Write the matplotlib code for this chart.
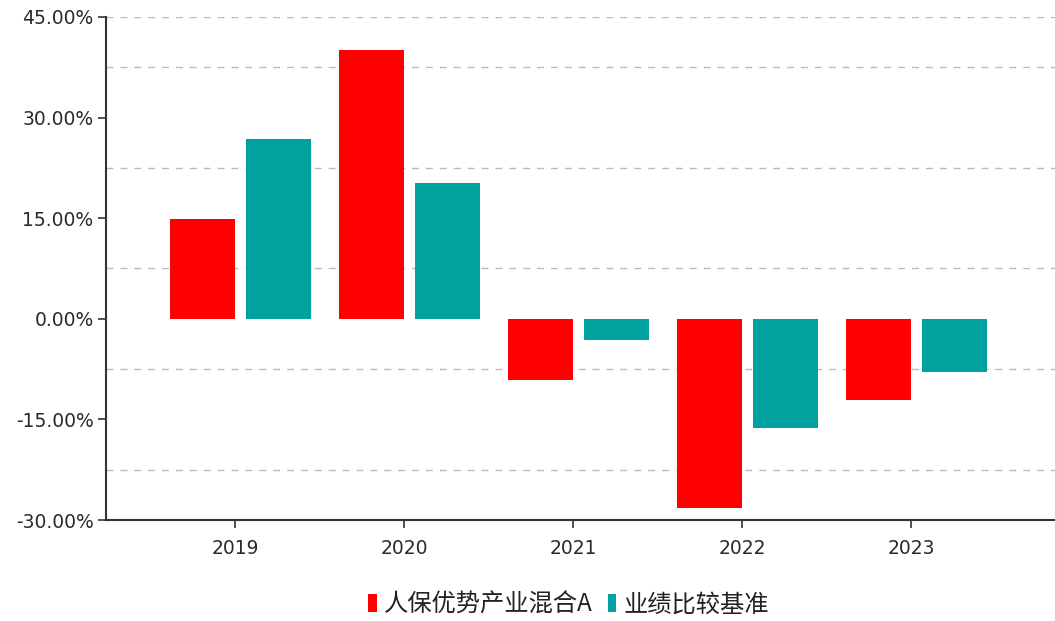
import matplotlib
matplotlib.use("Agg")
import matplotlib.pyplot as plt
from matplotlib.ticker import FuncFormatter, FixedLocator
from matplotlib.patches import Patch
import numpy as np

years = ["2019", "2020", "2021", "2022", "2023"]
fund = [14.87, 40.15, -9.18, -28.26, -12.15]
bench = [26.77, 20.23, -3.23, -16.27, -7.94]
series_names = ["人保优势产业混合A", "业绩比较基准"]
yticks = [-30, -15, 0, 15, 30, 45]
grid_levels = [45, 37.5, 22.5, 7.5, -7.5, -22.5]

RED = "#FF0000"
TEAL = "#00A19F"
DARK = "#333333"

plt.rcParams['font.family'] = ['DejaVu Sans']

fig = plt.figure(figsize=(10.55, 6.21), dpi=100)
ax = fig.add_axes([106/1055, 101/621, 1 - 106/1055, (520-17)/621])

x = np.arange(len(years))
w = 0.385
gap = 0.065
ax.bar(x - w/2, fund, width=w, color=RED, zorder=3, linewidth=0)
ax.bar(x + gap + w/2, bench, width=w, color=TEAL, zorder=3, linewidth=0)

for g in grid_levels:
    ax.axhline(g, color="#BBBBBB", linestyle=(0, (5, 5)), linewidth=1.0, zorder=1)

ax.set_ylim(-30, 45)
ax.set_xlim(-0.765, 4.85)
ax.yaxis.set_major_locator(FixedLocator(yticks))
ax.yaxis.set_major_formatter(FuncFormatter(lambda v, p: f"{v:.2f}%"))
ax.set_xticks(x)
ax.set_xticklabels(years)

for s in ["top", "right"]:
    ax.spines[s].set_visible(False)
for s in ["left", "bottom"]:
    ax.spines[s].set_color(DARK)
    ax.spines[s].set_linewidth(1.5)

ax.tick_params(axis="both", direction="out", length=6, width=1.2, color=DARK,
               labelcolor="#2a2a2a", labelsize=13.5)
ax.tick_params(axis="x", pad=8)
ax.tick_params(axis="y", pad=3)

handles = [Patch(facecolor=RED, edgecolor="none"), Patch(facecolor=TEAL, edgecolor="none")]
leg = fig.legend(handles, series_names, loc="center", bbox_to_anchor=(0.539, 0.026),
                 ncol=2, frameon=False, handlelength=0.35, handleheight=0.75,
                 handletextpad=0.3, columnspacing=0.6,
                 prop={"family": ["Noto Sans CJK SC", "DejaVu Sans"], "size": 17.5})
for t in leg.get_texts():
    t.set_color("#222222")

fig.savefig("out.png", dpi=100)
